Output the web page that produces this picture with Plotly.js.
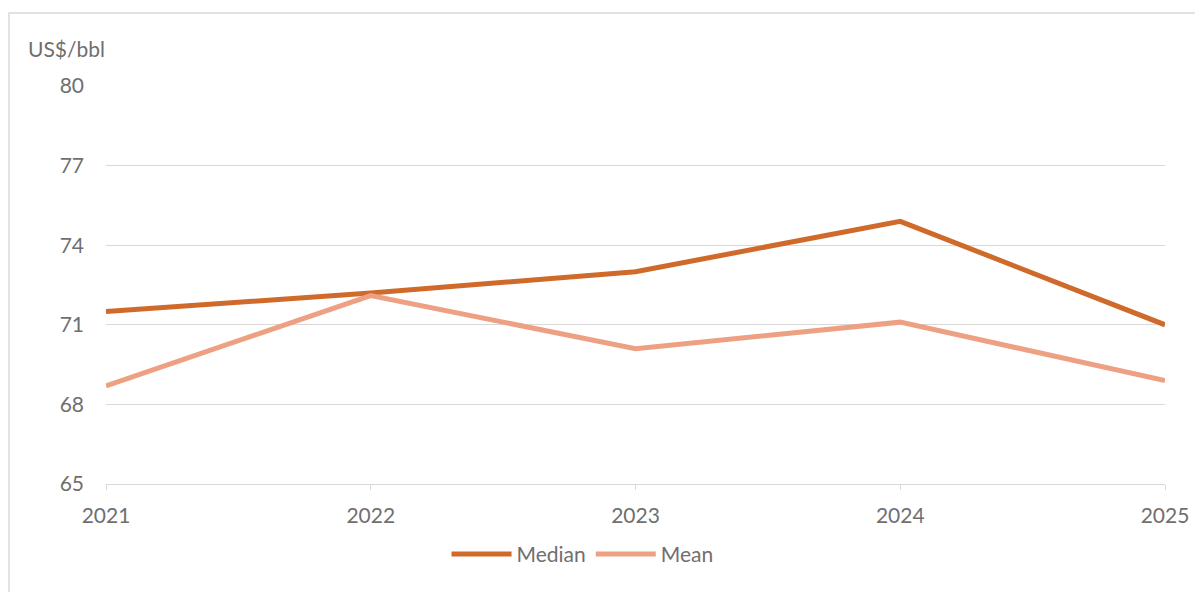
<!DOCTYPE html>
<html><head><meta charset="utf-8">
<script src="https://cdn.plot.ly/plotly-3.0.1.min.js"></script>
<style>html,body{margin:0;padding:0;background:#fff;}#chart{width:1195px;height:592px;}</style>
</head><body><div id="chart"></div>
<script>
const years = ['2021','2022','2023','2024','2025'];
const median = [71.5, 72.2, 73.0, 74.9, 71.0];
const mean = [68.7, 72.1, 70.1, 71.1, 68.9];
const yTicks = [65, 68, 71, 74, 77, 80];

const fontFam = 'Lato, "Open Sans", sans-serif';
const txtColor = '#6f6f6f';
const traces = [
  {x: years, y: median, name: 'Median', type: 'scatter', mode: 'lines',
   line: {color: '#CF6A2B', width: 5}},
  {x: years, y: mean, name: 'Mean', type: 'scatter', mode: 'lines',
   line: {color: '#EEA083', width: 5}}
];
const layout = {
  width: 1195, height: 592,
  margin: {l: 106, r: 30, t: 86, b: 108},
  paper_bgcolor: '#fff', plot_bgcolor: '#fff',
  font: {family: fontFam, color: txtColor, size: 21},
  showlegend: true,
  legend: {orientation: 'h', x: 0.45, xanchor: 'center', y: -0.125, yanchor: 'top',
           font: {size: 21, color: txtColor}, itemwidth: 60, tracegroupgap: 0},
  xaxis: {type: 'category', range: [0, 4], showgrid: false, zeroline: false,
          showline: true, linecolor: '#d9d9d9', linewidth: 1,
          ticks: 'outside', ticklen: 5, tickcolor: '#d9d9d9', ticklabelstandoff: 8,
          tickfont: {size: 21, color: txtColor}, fixedrange: true},
  yaxis: {range: [65, 80], tickvals: yTicks, showgrid: true, gridcolor: '#d9d9d9', gridwidth: 1,
          zeroline: false, showline: false, ticks: '', ticklabelstandoff: 21,
          tickfont: {size: 21, color: txtColor}},
  annotations: [{text: 'US$/bbl', xref: 'paper', yref: 'paper', x: -0.076, y: 1.095,
                 xanchor: 'left', yanchor: 'middle', showarrow: false,
                 font: {size: 21, color: txtColor, family: fontFam}}],
  shapes: [{type: 'rect', xref: 'paper', yref: 'paper', x0: -0.0916, x1: 1.2,
            y0: -0.6, y1: 1.1834, line: {color: '#d9d9d9', width: 1.5}, fillcolor: 'rgba(0,0,0,0)', layer: 'below'}]
};
Plotly.newPlot('chart', traces, layout, {displayModeBar: false, staticPlot: true});
</script></body></html>
